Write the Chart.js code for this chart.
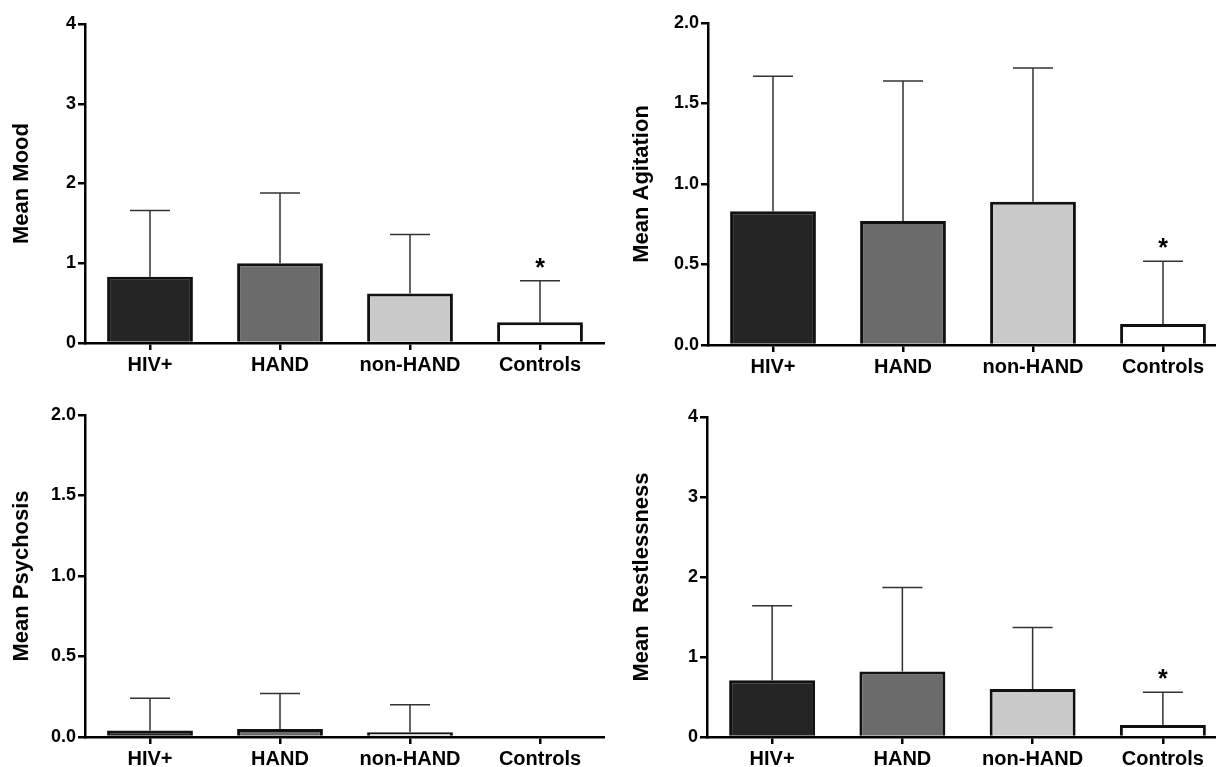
<!DOCTYPE html>
<html>
<head>
<meta charset="utf-8">
<script src="https://cdn.jsdelivr.net/npm/chart.js@4.4.1/dist/chart.umd.min.js"></script>
<style>
  html, body { margin: 0; padding: 0; background: #fff; overflow: hidden; width: 1216px; height: 767px; }
  canvas { position: absolute; }
</style>
</head>
<body>
<canvas id="moodChart"></canvas>
<canvas id="agitationChart"></canvas>
<canvas id="psychosisChart"></canvas>
<canvas id="restlessChart"></canvas>
<script>
// groups on the x axis
const groups = ["HIV+", "HAND", "non-HAND", "Controls"];

// means and SD (upper error bar)
const moodMean = [0.83, 1.0, 0.62, 0.26];
const moodSD = [0.83, 0.88, 0.74, 0.52];
const agitationMean = [0.83, 0.77, 0.89, 0.13];
const agitationSD = [0.84, 0.87, 0.83, 0.39];
const psychosisMean = [0.04, 0.05, 0.03, 0];
const psychosisSD = [0.2, 0.22, 0.17, 0];
const restlessMean = [0.71, 0.82, 0.6, 0.15];
const restlessSD = [0.93, 1.05, 0.77, 0.41];

// * marks vs the HIV+ groups
const moodStar = [false, false, false, true];
const agitationStar = [false, false, false, true];
const psychosisStar = [false, false, false, false];
const restlessStar = [false, false, false, true];

const barColors = ["#252525", "#6b6b6b", "#c9c9c9", "#ffffff"];

Chart.defaults.font.family = '"Liberation Sans", Arial, sans-serif';
Chart.defaults.color = "#000";

// draws the upward SD bars and the significance stars
const errorBarPlugin = {
  id: "errorBars",
  afterDatasetsDraw(chart, args, opts) {
    const ctx = chart.ctx;
    const yScale = chart.scales.y;
    const meta = chart.getDatasetMeta(0);
    const means = chart.data.datasets[0].data;
    meta.data.forEach((bar, i) => {
      const sd = opts.sd[i];
      const yTop = yScale.getPixelForValue(means[i] + sd);
      ctx.save();
      if (sd > 0) {
        ctx.strokeStyle = "#333";
        ctx.lineWidth = 1.5;
        ctx.beginPath();
        ctx.moveTo(bar.x, bar.y);
        ctx.lineTo(bar.x, yTop);
        ctx.moveTo(bar.x - 20, yTop);
        ctx.lineTo(bar.x + 20, yTop);
        ctx.stroke();
      }
      if (opts.stars[i]) {
        ctx.fillStyle = "#000";
        ctx.font = 'bold 25px "Liberation Sans", Arial, sans-serif';
        ctx.textAlign = "center";
        ctx.textBaseline = "middle";
        ctx.fillText("*", bar.x, yTop - 12);
      }
      ctx.restore();
    });
  },
};

function makePanel(id, box, title, means, sd, stars, yMax, yStep, decimals) {
  const canvas = document.getElementById(id);
  canvas.style.left = box.left + "px";
  canvas.style.top = box.top + "px";
  canvas.width = box.width;
  canvas.height = box.height;

  return new Chart(canvas.getContext("2d"), {
    type: "bar",
    data: {
      labels: groups,
      datasets: [
        {
          data: means,
          backgroundColor: barColors,
          borderColor: "#111",
          borderWidth: 3,
          barPercentage: 0.66,
          categoryPercentage: 1.0,
        },
      ],
    },
    options: {
      responsive: false,
      animation: false,
      layout: { padding: { top: box.padTop, right: 0, bottom: 0, left: 0 } },
      plugins: {
        legend: { display: false },
        tooltip: { enabled: false },
        errorBars: { sd: sd, stars: stars },
      },
      scales: {
        x: {
          offset: true,
          border: { display: true, color: "#000", width: 2.5 },
          grid: {
            offset: false,
            drawOnChartArea: false,
            drawTicks: true,
            tickLength: 7,
            color: "#000",
            lineWidth: 2.5,
          },
          ticks: {
            padding: 3,
            font: { size: 20, weight: "bold" },
            color: "#000",
            maxRotation: 0,
            autoSkip: false,
          },
          afterFit(scale) {
            scale.height = box.xHeight;
          },
        },
        y: {
          min: 0,
          max: yMax,
          border: { display: true, color: "#000", width: 2.5 },
          grid: {
            drawOnChartArea: false,
            drawTicks: true,
            tickLength: 7,
            color: "#000",
            lineWidth: 2.5,
          },
          ticks: {
            stepSize: yStep,
            padding: 2,
            font: { size: 18, weight: "bold" },
            color: "#000",
            callback: (v) => v.toFixed(decimals),
          },
          title: {
            display: true,
            text: title,
            font: { size: 22, weight: "bold" },
            color: "#000",
            padding: { top: 9, bottom: 0 },
          },
          afterFit(scale) {
            scale.width = box.axisX - box.left;
          },
        },
      },
    },
    plugins: [errorBarPlugin],
  });
}

makePanel("moodChart",
  { left: 0, top: 0, width: 605, height: 380, padTop: 24, xHeight: 37, axisX: 85 },
  "Mean Mood", moodMean, moodSD, moodStar, 4, 1, 0);

makePanel("agitationChart",
  { left: 620, top: 0, width: 608, height: 380, padTop: 23, xHeight: 35, axisX: 708 },
  "Mean Agitation", agitationMean, agitationSD, agitationStar, 2, 0.5, 1);

makePanel("psychosisChart",
  { left: 0, top: 392, width: 605, height: 375, padTop: 23, xHeight: 30, axisX: 85 },
  "Mean Psychosis", psychosisMean, psychosisSD, psychosisStar, 2, 0.5, 1);

makePanel("restlessChart",
  { left: 620, top: 392, width: 608, height: 375, padTop: 25, xHeight: 30, axisX: 707 },
  "Mean  Restlessness", restlessMean, restlessSD, restlessStar, 4, 1, 0);
</script>
</body>
</html>
